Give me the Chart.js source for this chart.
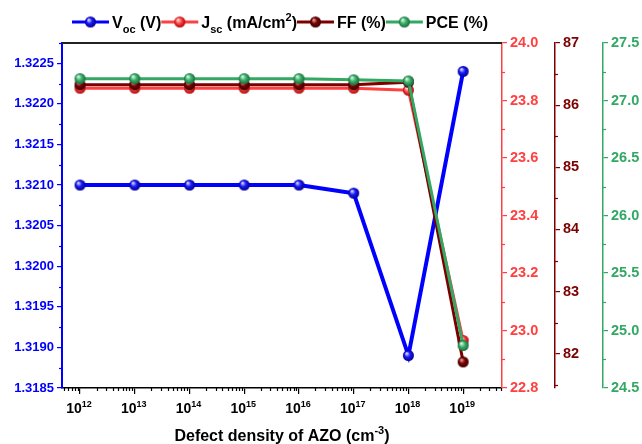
<!DOCTYPE html>
<html>
<head>
<meta charset="utf-8">
<script src="https://cdn.jsdelivr.net/npm/chart.js@4.4.0/dist/chart.umd.min.js"></script>
<style>
  html, body { margin: 0; padding: 0; background: #fff; }
</style>
</head>
<body>
<canvas id="chart" width="642" height="444"></canvas>
<script>
// Defect density of AZO, as powers of ten (cm^-3)
const exponents = [12, 13, 14, 15, 16, 17, 18, 19];

// Device parameters per defect density
const vocValues = [1.3210, 1.3210, 1.3210, 1.3210, 1.3210, 1.3209, 1.3189, 1.3224];
const jscValues = [23.843, 23.843, 23.843, 23.843, 23.843, 23.843, 23.836, 22.965];
const ffValues  = [86.33, 86.33, 86.33, 86.33, 86.33, 86.33, 86.37, 81.87];
const pceValues = [27.19, 27.19, 27.19, 27.19, 27.19, 27.18, 27.17, 24.87];

// Tick labels for each axis
const vocTicks = [1.3185, 1.3190, 1.3195, 1.3200, 1.3205, 1.3210, 1.3215, 1.3220, 1.3225];
const jscTicks = [22.8, 23.0, 23.2, 23.4, 23.6, 23.8, 24.0];
const ffTicks  = [82, 83, 84, 85, 86, 87];
const pceTicks = [24.5, 25.0, 25.5, 26.0, 26.5, 27.0, 27.5];

const BLUE = '#0000ff';
const RED = '#ff4040';
const DARKRED = '#7d0000';
const GREEN = '#33a864';
const FONT = '"Liberation Sans", Arial, sans-serif';

// Shaded ball used as point marker
function makeBall(light, base, dark, r) {
    const size = r * 2 + 2;
    const c = document.createElement('canvas');
    c.width = size;
    c.height = size;
    const g = c.getContext('2d');
    const m = size / 2;
    const grad = g.createRadialGradient(m - r * 0.35, m - r * 0.4, r * 0.1, m, m, r);
    grad.addColorStop(0, light);
    grad.addColorStop(0.45, base);
    grad.addColorStop(1, dark);
    g.fillStyle = grad;
    g.beginPath();
    g.arc(m, m, r, 0, Math.PI * 2);
    g.fill();
    return c;
}

const balls = {
    voc: makeBall('#d8d8ff', '#1a1aff', '#00008a', 5.5),
    jsc: makeBall('#ffe0e0', '#ff4a4a', '#b00000', 5.5),
    ff:  makeBall('#e0a0a0', '#800000', '#3a0000', 5.5),
    pce: makeBall('#d8f5e2', '#3cb36e', '#1a6a3a', 5.5)
};

// Draw text made of normal / sub / sup pieces, returns width
function drawRich(ctx, parts, x, y, size, color, measureOnly) {
    let cx = x;
    parts.forEach(p => {
        const small = p[1] === 'sub' || p[1] === 'sup';
        const fs = small ? Math.round(size * 0.66) : size;
        ctx.font = 'bold ' + fs + 'px ' + FONT;
        const dy = p[1] === 'sub' ? size * 0.3 : (p[1] === 'sup' ? -size * 0.42 : 0);
        if (!measureOnly) {
            ctx.fillStyle = color;
            ctx.textBaseline = 'alphabetic';
            ctx.textAlign = 'left';
            ctx.fillText(p[0], cx, y + dy);
        }
        cx += ctx.measureText(p[0]).width;
    });
    return cx - x;
}

const legendItems = [
    { parts: [['V'], ['oc', 'sub'], [' (V)']], color: BLUE, ball: balls.voc },
    { parts: [['J'], ['sc', 'sub'], [' (mA/cm'], ['2', 'sup'], [')']], color: RED, ball: balls.jsc },
    { parts: [['FF (%)']], color: DARKRED, ball: balls.ff },
    { parts: [['PCE (%)']], color: GREEN, ball: balls.pce }
];

// Minor tick positions per axis
const minorTicks = {
    y:   { start: 1.31875, step: 0.0005, color: BLUE },
    y1:  { start: 22.9, step: 0.2, color: RED },
    y2:  { start: 81.5, step: 1, color: DARKRED },
    y3:  { start: 24.75, step: 0.5, color: GREEN }
};

const decorations = {
    id: 'decorations',
    afterDraw(chart) {
        const ctx = chart.ctx;
        const area = chart.chartArea;
        ctx.save();

        // top frame
        ctx.strokeStyle = '#222';
        ctx.lineWidth = 2;
        ctx.beginPath();
        ctx.moveTo(area.left, area.top);
        ctx.lineTo(area.right, area.top);
        ctx.stroke();

        // minor ticks on the value axes
        Object.keys(minorTicks).forEach(id => {
            const s = chart.scales[id];
            const def = minorTicks[id];
            ctx.strokeStyle = def.color;
            ctx.lineWidth = 1.2;
            for (let v = def.start; v <= s.max + 1e-9; v += def.step) {
                const py = Math.round(s.getPixelForValue(v)) + 0.5;
                ctx.beginPath();
                if (s.position === 'left') {
                    ctx.moveTo(s.right - 3, py);
                    ctx.lineTo(s.right, py);
                } else {
                    ctx.moveTo(s.left, py);
                    ctx.lineTo(s.left + 3, py);
                }
                ctx.stroke();
            }
        });

        // log minor ticks and labels on the x axis
        const xs = chart.scales.x;
        ctx.strokeStyle = '#000';
        ctx.lineWidth = 1.2;
        for (let d = Math.floor(xs.min); d <= Math.ceil(xs.max); d++) {
            for (let k = 2; k <= 9; k++) {
                const v = d + Math.log10(k);
                if (v < xs.min || v > xs.max) continue;
                const px = Math.round(xs.getPixelForValue(v)) + 0.5;
                ctx.beginPath();
                ctx.moveTo(px, xs.top);
                ctx.lineTo(px, xs.top + 3);
                ctx.stroke();
            }
        }
        exponents.forEach(e => {
            const parts = [['10'], [String(e), 'sup']];
            const w = drawRich(ctx, parts, 0, 0, 14, '#000', true);
            const px = xs.getPixelForValue(e);
            drawRich(ctx, parts, px - w / 2 - 1, 413, 14, '#000');
        });

        // x axis title
        const title = [['Defect density of AZO (cm'], ['-3', 'sup'], [')']];
        const tw = drawRich(ctx, title, 0, 0, 16, '#000', true);
        drawRich(ctx, title, (area.left + area.right) / 2 - tw / 2, 441, 16, '#000');

        // legend row
        let lx = 72;
        const ly = 22;
        legendItems.forEach(item => {
            ctx.strokeStyle = item.color;
            ctx.lineWidth = 3;
            ctx.beginPath();
            ctx.moveTo(lx, ly);
            ctx.lineTo(lx + 37, ly);
            ctx.stroke();
            ctx.drawImage(item.ball, lx + 18.5 - item.ball.width / 2, ly - item.ball.height / 2);
            lx += 40;
            lx += drawRich(ctx, item.parts, lx, 28, 16, '#000');
        });

        ctx.restore();
    }
};

function fixedTicks(list) {
    return scale => { scale.ticks = list.map(v => ({ value: v })); };
}

function valueAxis(position, weight, color, min, max, ticks, digits, width, fontSize) {
    return {
        type: 'linear',
        position: position,
        weight: weight,
        min: min,
        max: max,
        afterBuildTicks: fixedTicks(ticks),
        afterFit: scale => { scale.width = width; },
        border: { color: color, width: position === 'left' ? 2 : 1.5 },
        grid: { drawOnChartArea: false, drawTicks: true, tickLength: 5, color: color, lineWidth: 1.2 },
        ticks: {
            color: color,
            padding: 3,
            font: { family: FONT, size: fontSize, weight: 'bold' },
            callback: v => v.toFixed(digits)
        }
    };
}

const lineSet = (label, data, axis, color, ball, width, order) => ({
    label: label,
    data: exponents.map((e, i) => ({ x: e, y: data[i] })),
    yAxisID: axis,
    borderColor: color,
    backgroundColor: color,
    borderWidth: width,
    pointStyle: ball,
    pointRadius: 6,
    tension: 0,
    order: order
});

new Chart(document.getElementById('chart'), {
    type: 'line',
    data: {
        datasets: [
            lineSet('Voc (V)', vocValues, 'y', BLUE, balls.voc, 4, 4),
            lineSet('Jsc (mA/cm2)', jscValues, 'y1', RED, balls.jsc, 3, 3),
            lineSet('FF (%)', ffValues, 'y2', DARKRED, balls.ff, 3, 2),
            lineSet('PCE (%)', pceValues, 'y3', GREEN, balls.pce, 3, 1)
        ]
    },
    options: {
        responsive: false,
        animation: false,
        layout: { padding: { top: 43, right: 0, bottom: 0, left: 0 } },
        plugins: { legend: { display: false }, tooltip: { enabled: false } },
        scales: {
            x: {
                type: 'linear',
                position: 'bottom',
                min: 11.67,
                max: 19.71,
                afterBuildTicks: fixedTicks(exponents),
                afterFit: scale => { scale.height = 56; },
                border: { color: '#000', width: 1.5 },
                grid: { drawOnChartArea: false, drawTicks: true, tickLength: 6, color: '#000', lineWidth: 1.2 },
                ticks: { display: false }
            },
            y:  valueAxis('left', 0, BLUE, 1.3185, 1.32275, vocTicks, 4, 62, 13),
            y1: valueAxis('right', 0, RED, 22.8, 24.0, jscTicks, 1, 53, 14.5),
            y2: valueAxis('right', 1, DARKRED, 81.45, 87, ffTicks, 0, 48, 14.5),
            y3: valueAxis('right', 2, GREEN, 24.5, 27.5, pceTicks, 1, 39, 14.5)
        }
    },
    plugins: [decorations]
});
</script>
</body>
</html>
